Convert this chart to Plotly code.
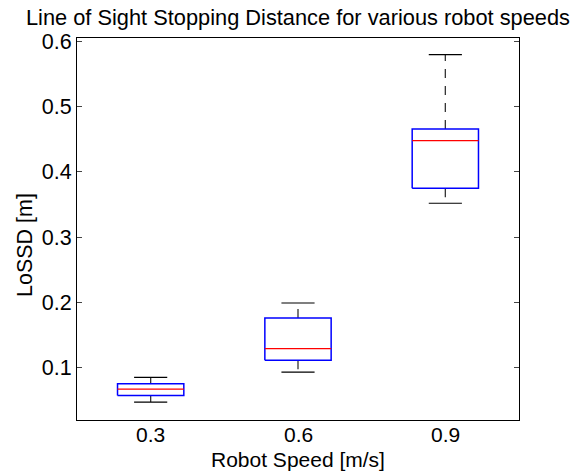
import plotly.graph_objects as go

# Summary statistics of stopping distance per robot speed
speeds = ["0.3", "0.6", "0.9"]
lower_whisker = [0.047, 0.093, 0.352]
q1 = [0.057, 0.111, 0.375]
median = [0.067, 0.129, 0.448]
q3 = [0.075, 0.176, 0.466]
upper_whisker = [0.085, 0.199, 0.580]
y_ticks = [0.1, 0.2, 0.3, 0.4, 0.5, 0.6]

positions = list(range(1, len(speeds) + 1))
half_box = 0.225
half_cap = 0.1125

box_x, box_y = [], []
med_x, med_y = [], []
whisk_x, whisk_y = [], []
cap_x, cap_y = [], []
for p, lo, a, m, b, hi in zip(positions, lower_whisker, q1, median, q3, upper_whisker):
    box_x += [p - half_box, p + half_box, p + half_box, p - half_box, p - half_box, None]
    box_y += [a, a, b, b, a, None]
    med_x += [p - half_box, p + half_box, None]
    med_y += [m, m, None]
    # whiskers run outward from the box edges
    whisk_x += [p, p, None, p, p, None]
    whisk_y += [b, hi, None, a, lo, None]
    cap_x += [p - half_cap, p + half_cap, None, p - half_cap, p + half_cap, None]
    cap_y += [hi, hi, None, lo, lo, None]

fig = go.Figure()
fig.add_trace(go.Scatter(x=whisk_x, y=whisk_y, mode="lines",
                         line=dict(color="#333333", width=1.3, dash="9px,8px"),
                         hoverinfo="skip", showlegend=False))
fig.add_trace(go.Scatter(x=cap_x, y=cap_y, mode="lines",
                         line=dict(color="black", width=1.2),
                         hoverinfo="skip", showlegend=False))
fig.add_trace(go.Scatter(x=box_x, y=box_y, mode="lines",
                         line=dict(color="#0000ff", width=1.5),
                         hoverinfo="skip", showlegend=False))
fig.add_trace(go.Scatter(x=med_x, y=med_y, mode="lines",
                         line=dict(color="#ff0000", width=1.3),
                         hoverinfo="skip", showlegend=False))

font_family = "Liberation Sans, Arial, Helvetica, sans-serif"
fs = 21.5
fs_x = 21

fig.update_layout(
    width=574, height=473,
    margin=dict(l=77, r=55, t=38, b=53),
    paper_bgcolor="white", plot_bgcolor="white",
    font=dict(family=font_family, size=fs, color="black"),
    title=dict(text="Line of Sight Stopping Distance for various robot speeds",
               x=0.5, xref="paper", xanchor="center",
               y=1 - 17 / 473, yref="container", yanchor="middle",
               font=dict(size=21.8, color="black")),
    showlegend=False,
)
fig.update_xaxes(
    range=[0.5, len(speeds) + 0.5],
    tickvals=positions, showticklabels=False,
    ticks="", showgrid=False, zeroline=False, automargin=False,
    showline=True, linecolor="black", linewidth=1, mirror=True,
)
fig.update_yaxes(
    range=[0.0195, 0.6055],
    tickvals=y_ticks, ticktext=[f"{v:.1f}" for v in y_ticks],
    ticks="inside", ticklen=5, tickcolor="#444", tickwidth=1,
    showgrid=False, zeroline=False, automargin=False,
    showline=True, linecolor="black", linewidth=1, mirror="ticks",
    tickfont=dict(size=fs),
)

# category labels under each box
for p, s in zip(positions, speeds):
    fig.add_annotation(text=s, x=p, y=0, xref="x", yref="paper",
                       xanchor="center", yanchor="middle", yshift=-14,
                       borderpad=0,
                       showarrow=False, font=dict(size=fs_x, color="black"))

fig.add_annotation(text="Robot Speed [m/s]", x=0.5, y=0,
                   xref="paper", yref="paper",
                   xanchor="center", yanchor="middle", yshift=-39,
                   borderpad=0,
                   showarrow=False, font=dict(size=fs_x, color="black"))
fig.add_annotation(text="LoSSD [m]", textangle=-90,
                   xref="paper", yref="paper",
                   x=-(77 - 25) / 442, y=(420 - 245) / 382,
                   xanchor="center", yanchor="middle",
                   showarrow=False, font=dict(size=fs, color="black"))

fig.write_html("out.html")
